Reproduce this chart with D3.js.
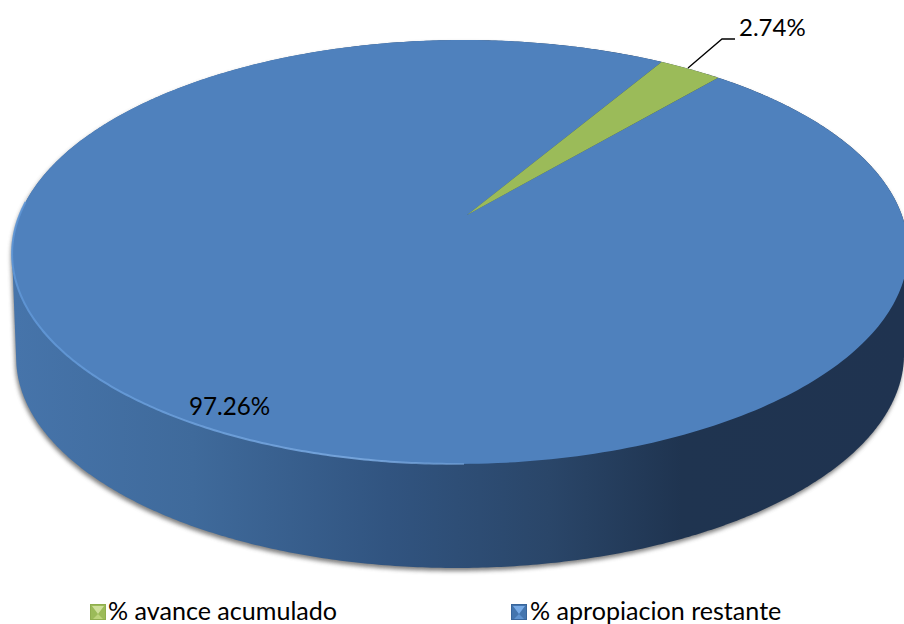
<!DOCTYPE html>
<html><head><meta charset="utf-8">
<script src="https://cdn.jsdelivr.net/npm/d3@7"></script>
<style>html,body{margin:0;padding:0;background:#fff;overflow:hidden}svg{display:block}text{font-family:Lato,"Open Sans",sans-serif;fill:#000}</style>
</head><body><svg id="c" width="904" height="624"></svg>
<script>
const categories = ["% avance acumulado", "% apropiacion restante"];
const values = [2.74, 97.26];
const valueLabels = ["2.74%", "97.26%"];
const topColors = ["#9bbb59", "#4f81bd"];

const svg = d3.select("#c");
const defs = svg.append("defs");
const START = 30.4 * Math.PI / 180;

// Perspective projection of the tilted disc
const K = -0.1745, M = 0.0143, SHEAR = 0.012;
function projector(cx, cy, A, B) {
  return a => {
    const u = Math.sin(a), v = -Math.cos(a), w = 1 + K * v + M * u;
    const dy = B * v / w;
    return [cx + A * u / w - SHEAR * dy, cy + dy];
  };
}
const topP = projector(467, 215, 441, 205.5);
const botP = projector(467, 319, 437, 205.5);

const pie = d3.pie().sort(null).startAngle(START).endAngle(START + 2 * Math.PI);
const arcs = pie(values);
const line = d3.line();
const samples = (a0, a1, n = 360) => d3.range(n + 1).map(i => a0 + (a1 - a0) * i / n);

// wall gradient
const wg = defs.append("linearGradient").attr("id", "wall").attr("gradientUnits", "userSpaceOnUse")
  .attr("x1", 15).attr("x2", 904).attr("y1", 0).attr("y2", 0);
[[0, "#4674aa"], [0.2, "#3f6a9b"], [0.42, "#315480"], [0.6, "#2a4669"], [0.75, "#1f3450"], [1, "#1f3350"]]
  .forEach(s => wg.append("stop").attr("offset", s[0]).attr("stop-color", s[1]));
const rim = defs.append("linearGradient").attr("id", "rim").attr("gradientUnits", "userSpaceOnUse")
  .attr("x1", 15).attr("x2", 600).attr("y1", 0).attr("y2", 0);
[[0, "#5f96d6", 0.9], [0.6, "#7aa9e0", 0.9], [1, "#7aa9e0", 0]]
  .forEach(s => rim.append("stop").attr("offset", s[0]).attr("stop-color", s[1]).attr("stop-opacity", s[2]));
defs.append("filter").attr("id", "blur").attr("x", "-5%").attr("y", "-5%").attr("width", "110%").attr("height", "110%")
  .append("feGaussianBlur").attr("stdDeviation", 2.2);
defs.append("filter").attr("id", "soft").attr("x", "-5%").attr("y", "-5%").attr("width", "110%").attr("height", "110%")
  .append("feGaussianBlur").attr("stdDeviation", 0.6);

// wall outline
const all = samples(0, 2 * Math.PI, 720);
const topPts = all.map(topP), botPts = all.map(botP);
const silhouette = d3.polygonHull(topPts.concat(botPts));
svg.append("path").attr("d", line(silhouette) + "Z").attr("fill", "#555").attr("opacity", 0.75)
  .attr("transform", "translate(-1,3)").attr("filter", "url(#blur)");
svg.append("path").attr("d", line(silhouette) + "Z").attr("fill", "url(#wall)");

// top face
const g = svg.append("g");
arcs.forEach(d => {
  const pts = [[467, 215]].concat(samples(d.startAngle, d.endAngle, 360).map(topP));
  d.path = line(pts) + "Z";
});
g.selectAll("path.slice").data(arcs.slice().reverse()).join("path").attr("class", "slice")
  .attr("d", d => d.path).attr("fill", d => topColors[d.index]);

// rim highlight, lower-left edge
const rimPts = samples(1.0 * Math.PI, 1.52 * Math.PI, 200).map(topP);
svg.append("path").attr("d", line(rimPts)).attr("fill", "none").attr("stroke", "url(#rim)")
  .attr("stroke-width", 2).attr("filter", "url(#soft)");

// leader and labels
svg.append("path").attr("d", line([[688, 68], [722, 39], [735, 39]])).attr("fill", "none")
  .attr("stroke", "#000").attr("stroke-width", 1.3);
svg.append("text").attr("x", 739).attr("y", 36).attr("font-size", 24).text(valueLabels[0]);
svg.append("text").attr("x", 189).attr("y", 415).attr("font-size", 24.2).text(valueLabels[1]);

// legend
const lx = [90, 511], ltx = [108, 530];
const pal = [
  {edge: "#8fae4e", top: "#cfe09c", side: "#9bbb59", bot: "#bcd47c"},
  {edge: "#38659b", top: "#78abe6", side: "#4475ae", bot: "#5f93d0"}
];
const leg = svg.selectAll("g.leg").data(categories).join("g").attr("class", "leg")
  .attr("transform", (d, i) => `translate(${lx[i]},604)`);
const S = 16;
leg.append("rect").attr("width", S).attr("height", S).attr("fill", (d, i) => pal[i].side);
leg.append("path").attr("d", line([[2, 2], [S - 2, 2], [S / 2, S * 0.62]]) + "Z").attr("fill", (d, i) => pal[i].top);
leg.append("path").attr("d", line([[3, S - 1], [S - 3, S - 1], [S / 2, S * 0.62]]) + "Z").attr("fill", (d, i) => pal[i].bot);
leg.append("rect").attr("x", .5).attr("y", .5).attr("width", S - 1).attr("height", S - 1)
  .attr("fill", "none").attr("stroke", (d, i) => pal[i].edge);
svg.selectAll("text.lt").data(categories).join("text").attr("class", "lt")
  .attr("x", (d, i) => ltx[i]).attr("y", 620).attr("font-size", 25.1).text(d => d);
</script></body></html>
